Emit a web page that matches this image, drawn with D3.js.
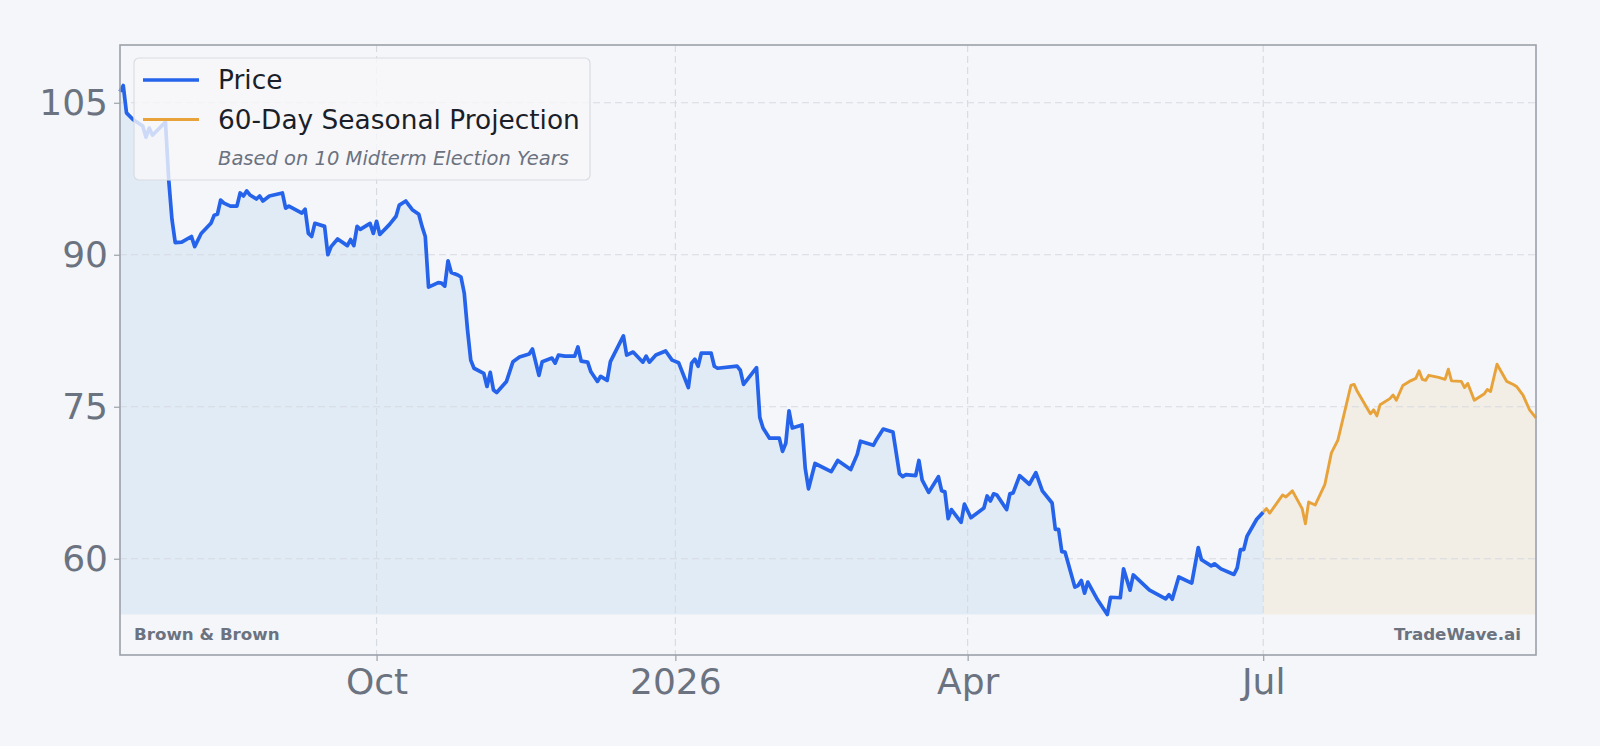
<!DOCTYPE html>
<html>
<head>
<meta charset="utf-8">
<script src="https://cdn.jsdelivr.net/npm/d3@7/dist/d3.min.js"></script>
<style>
  html, body { margin: 0; padding: 0; background: #f4f6f9; }
  svg { display: block; }
</style>
</head>
<body>
<svg id="chart" width="1600" height="746"></svg>
<script>
// ---------- DATA ----------
const priceDates = [
  "2025-07-14","2025-07-15","2025-07-16","2025-07-18","2025-07-21","2025-07-22","2025-07-23","2025-07-24",
  "2025-07-28","2025-07-29","2025-07-30","2025-07-31","2025-08-02","2025-08-05","2025-08-06","2025-08-08",
  "2025-08-11","2025-08-12","2025-08-13","2025-08-14","2025-08-15","2025-08-17","2025-08-19","2025-08-20",
  "2025-08-21","2025-08-22","2025-08-23","2025-08-25","2025-08-26","2025-08-27","2025-08-29","2025-09-02",
  "2025-09-03","2025-09-04","2025-09-08","2025-09-09","2025-09-10","2025-09-11","2025-09-12","2025-09-15",
  "2025-09-16","2025-09-17","2025-09-19","2025-09-22","2025-09-23","2025-09-24","2025-09-25","2025-09-26",
  "2025-09-29","2025-09-30","2025-10-01","2025-10-02","2025-10-05","2025-10-07","2025-10-08","2025-10-10",
  "2025-10-12","2025-10-14","2025-10-15","2025-10-16","2025-10-17","2025-10-20","2025-10-21","2025-10-22",
  "2025-10-23","2025-10-24","2025-10-26","2025-10-27","2025-10-28","2025-10-29","2025-10-30","2025-10-31",
  "2025-11-03","2025-11-04","2025-11-05","2025-11-06","2025-11-07","2025-11-10","2025-11-12","2025-11-14",
  "2025-11-17","2025-11-18","2025-11-20","2025-11-21","2025-11-24","2025-11-25","2025-11-26","2025-11-28",
  "2025-12-01","2025-12-02","2025-12-03","2025-12-05","2025-12-06","2025-12-08","2025-12-09","2025-12-11",
  "2025-12-12","2025-12-16","2025-12-17","2025-12-19","2025-12-22","2025-12-23","2025-12-24","2025-12-26",
  "2025-12-29","2025-12-31","2026-01-02","2026-01-05","2026-01-06","2026-01-07","2026-01-08","2026-01-09",
  "2026-01-12","2026-01-13","2026-01-14","2026-01-20","2026-01-21","2026-01-22","2026-01-26","2026-01-27",
  "2026-01-28","2026-01-30","2026-02-02","2026-02-03","2026-02-04","2026-02-05","2026-02-06","2026-02-09",
  "2026-02-10","2026-02-11","2026-02-13","2026-02-18","2026-02-20","2026-02-24","2026-02-26","2026-02-27",
  "2026-03-03","2026-03-04","2026-03-06","2026-03-09","2026-03-11","2026-03-12","2026-03-13","2026-03-16",
  "2026-03-17","2026-03-18","2026-03-20","2026-03-23","2026-03-24","2026-03-25","2026-03-26","2026-03-27",
  "2026-03-30","2026-03-31","2026-04-02","2026-04-06","2026-04-07","2026-04-08","2026-04-09","2026-04-10",
  "2026-04-13","2026-04-14","2026-04-15","2026-04-17","2026-04-20","2026-04-22","2026-04-24","2026-04-27",
  "2026-04-28","2026-04-29","2026-04-30","2026-05-01","2026-05-04","2026-05-05","2026-05-06","2026-05-07",
  "2026-05-08","2026-05-11","2026-05-14","2026-05-15","2026-05-18","2026-05-19","2026-05-21","2026-05-22",
  "2026-05-27","2026-06-01","2026-06-02","2026-06-03","2026-06-05","2026-06-09","2026-06-11","2026-06-12",
  "2026-06-15","2026-06-16","2026-06-18","2026-06-22","2026-06-23","2026-06-24","2026-06-25","2026-06-26",
  "2026-06-29","2026-07-01"
];
const priceValues = [
  106.1,106.7,104.0,103.35,102.7,101.6,102.5,101.8,
  103.1,97.4,93.5,91.2,91.25,91.8,90.8,92.1,
  93.1,93.9,94.0,95.4,95.1,94.8,94.8,96.1,
  95.8,96.3,95.9,95.5,95.8,95.3,95.8,96.1,
  94.6,94.8,94.1,94.5,92.1,91.8,93.1,92.8,
  90.0,90.8,91.55,90.9,91.5,90.9,92.8,92.5,
  93.1,92.1,93.3,92.0,93.0,93.8,94.9,95.3,
  94.45,94.0,92.8,91.8,86.8,87.25,87.2,86.9,
  89.4,88.25,88.0,87.8,86.2,82.6,79.6,78.8,
  78.3,77.0,78.4,76.65,76.4,77.5,79.45,79.9,
  80.2,80.7,78.1,79.45,79.8,79.3,80.1,80.0,
  80.0,80.9,79.5,79.4,78.45,77.5,78.0,77.6,
  79.45,82.0,80.1,80.4,79.4,80.0,79.4,80.1,
  80.5,79.6,79.35,76.9,79.3,79.7,79.0,80.3,
  80.3,79.0,78.8,79.0,78.6,77.2,78.85,73.95,
  72.9,71.9,71.9,70.6,71.4,74.6,72.9,73.2,
  68.9,66.9,69.4,68.6,69.7,68.8,70.3,71.6,
  71.2,71.8,72.8,72.5,68.4,68.1,68.3,68.2,
  69.7,67.75,66.55,68.1,66.7,66.6,63.95,64.85,
  63.6,65.4,64.05,65.0,66.2,65.7,66.4,66.3,
  64.85,66.4,66.5,68.2,67.35,68.5,66.7,65.5,
  62.9,62.9,60.7,60.65,57.2,57.35,57.85,56.6,
  57.7,55.95,54.5,56.2,56.15,59.0,56.9,58.4,
  56.9,56.05,56.45,56.0,58.2,57.6,61.1,59.9,
  59.3,59.5,59.0,58.45,59.1,60.9,60.9,62.2,
  63.9,64.6
];
const projDates = [
  "2026-07-01","2026-07-02","2026-07-03","2026-07-07","2026-07-08","2026-07-10","2026-07-13","2026-07-14",
  "2026-07-15","2026-07-17","2026-07-20","2026-07-22","2026-07-24","2026-07-28","2026-07-29","2026-07-30",
  "2026-08-03","2026-08-04","2026-08-05","2026-08-06","2026-08-09","2026-08-10","2026-08-11","2026-08-13",
  "2026-08-15","2026-08-17","2026-08-18","2026-08-19","2026-08-20","2026-08-21","2026-08-24","2026-08-26",
  "2026-08-27","2026-08-28","2026-08-31","2026-09-01","2026-09-02","2026-09-04","2026-09-07","2026-09-08",
  "2026-09-09","2026-09-11","2026-09-14","2026-09-16","2026-09-17","2026-09-19","2026-09-21","2026-09-23"
];
const projValues = [
  64.6,64.95,64.5,66.3,66.1,66.7,64.95,63.45,
  65.6,65.3,67.35,70.45,71.7,77.1,77.2,76.5,
  74.3,74.7,74.1,75.2,75.8,76.15,75.65,77.1,
  77.5,77.8,78.55,77.7,77.6,78.1,77.9,77.7,
  78.7,77.55,77.5,76.9,77.3,75.65,76.25,76.7,
  76.5,79.2,77.5,77.2,77.0,76.15,74.7,73.9
];
const yTickValues = [60, 75, 90, 105];
const xTickDates = ["2025-10-01", "2026-01-01", "2026-04-01", "2026-07-01"];
const xTickLabels = ["Oct", "2026", "Apr", "Jul"];
const legendLabels = ["Price", "60-Day Seasonal Projection"];
const legendNote = "Based on 10 Midterm Election Years";
const tickerName = "Brown & Brown";
const brandName = "TradeWave.ai";

// ---------- SETUP ----------
const parse = d3.timeParse("%Y-%m-%d");
const price = priceDates.map((d, i) => ({ date: parse(d), value: priceValues[i] }));
const proj = projDates.map((d, i) => ({ date: parse(d), value: projValues[i] }));
const all = price.concat(proj);

const W = 1600, H = 746;
const m = { left: 120, right: 64, top: 45, bottom: 91 };
const svg = d3.select("#chart");
const FONT = "'DejaVu Sans', sans-serif";
const BLUE = "#2563eb", ORANGE = "#e8a23a", GRAY = "#6b7280";

svg.append("rect").attr("width", W).attr("height", H).attr("fill", "#f4f6f9");

const x = d3.scaleTime()
  .domain(d3.extent(all, d => d.date))
  .range([m.left, W - m.right]);
const minV = d3.min(all, d => d.value), maxV = d3.max(all, d => d.value);
const y = d3.scaleLinear()
  .domain([minV - 4, maxV + 4])
  .range([H - m.bottom, m.top]);
const base = d3.min(priceValues);

// fills
const area = d3.area().x(d => x(d.date)).y0(y(base)).y1(d => y(d.value));
svg.append("path").datum(price).attr("d", area).attr("fill", "#e1ebf6");
svg.append("path").datum(proj).attr("d", area).attr("fill", "#f2ede5");

// grid
const g = svg.append("g");
g.selectAll(".hg").data(yTickValues).join("line")
  .attr("x1", m.left).attr("x2", W - m.right)
  .attr("y1", d => y(d)).attr("y2", d => y(d))
  .attr("stroke", "#d6dae1").attr("stroke-width", 1.1).attr("stroke-dasharray", "7,4");
g.selectAll(".vg").data(xTickDates).join("line")
  .attr("x1", d => x(parse(d))).attr("x2", d => x(parse(d)))
  .attr("y1", m.top).attr("y2", H - m.bottom)
  .attr("stroke", "#d6dae1").attr("stroke-width", 1.1).attr("stroke-dasharray", "7,4");

// lines
const line = d3.line().x(d => x(d.date)).y(d => y(d.value));
svg.append("path").datum(proj).attr("d", line)
  .attr("fill", "none").attr("stroke", ORANGE).attr("stroke-width", 2.9).attr("stroke-linejoin", "round");
svg.append("path").datum(price).attr("d", line)
  .attr("fill", "none").attr("stroke", BLUE).attr("stroke-width", 3.7).attr("stroke-linejoin", "round");

// frame
svg.append("rect")
  .attr("x", m.left).attr("y", m.top)
  .attr("width", W - m.left - m.right).attr("height", H - m.top - m.bottom)
  .attr("fill", "none").attr("stroke", "#9ca1a9").attr("stroke-width", 1.6);

// axes
const xAxis = d3.axisBottom(x)
  .tickValues(xTickDates.map(parse))
  .tickFormat((d, i) => xTickLabels[i])
  .tickSize(6).tickPadding(7);
const gx = svg.append("g").attr("transform", `translate(0,${H - m.bottom})`).call(xAxis);
gx.select(".domain").remove();
gx.selectAll("line").attr("stroke", "#9ca1a9").attr("stroke-width", 1.2);
gx.selectAll("text").attr("fill", GRAY).attr("font-size", 36).attr("font-family", FONT);

const yAxis = d3.axisLeft(y).tickValues(yTickValues).tickSize(6).tickPadding(6);
const gy = svg.append("g").attr("transform", `translate(${m.left},0)`).call(yAxis);
gy.select(".domain").remove();
gy.selectAll("line").attr("stroke", "#9ca1a9").attr("stroke-width", 1.2);
gy.selectAll("text").attr("fill", GRAY).attr("font-size", 36).attr("font-family", FONT);

// legend
const lg = svg.append("g");
lg.append("rect").attr("x", 134).attr("y", 58).attr("width", 456).attr("height", 122).attr("rx", 5)
  .attr("fill", "#f7f8fa").attr("fill-opacity", 0.8).attr("stroke", "#d9dce2").attr("stroke-width", 1.2);
const items = [{ c: BLUE, w: 3.7, y: 80 }, { c: ORANGE, w: 2.9, y: 119.5 }];
items.forEach((it, i) => {
  lg.append("line").attr("x1", 143).attr("x2", 199).attr("y1", it.y).attr("y2", it.y)
    .attr("stroke", it.c).attr("stroke-width", it.w);
  lg.append("text").attr("x", 218).attr("y", it.y).attr("dy", "0.35em")
    .attr("font-family", FONT).attr("font-size", 26.4).attr("fill", "#1b1f29").text(legendLabels[i]);
});
lg.append("text").attr("x", 218).attr("y", 158.5).attr("dy", "0.35em")
  .attr("font-family", FONT).attr("font-style", "italic").attr("font-size", 19.5)
  .attr("fill", GRAY).text(legendNote);

// watermarks
svg.append("text").attr("x", 134).attr("y", 634).attr("dy", "0.35em")
  .attr("font-family", FONT).attr("font-weight", "bold").attr("font-size", 16.7)
  .attr("fill", GRAY).text(tickerName);
svg.append("text").attr("x", 1521).attr("y", 634).attr("dy", "0.35em").attr("text-anchor", "end")
  .attr("font-family", FONT).attr("font-weight", "bold").attr("font-size", 16.7)
  .attr("fill", GRAY).text(brandName);
</script>
</body>
</html>
